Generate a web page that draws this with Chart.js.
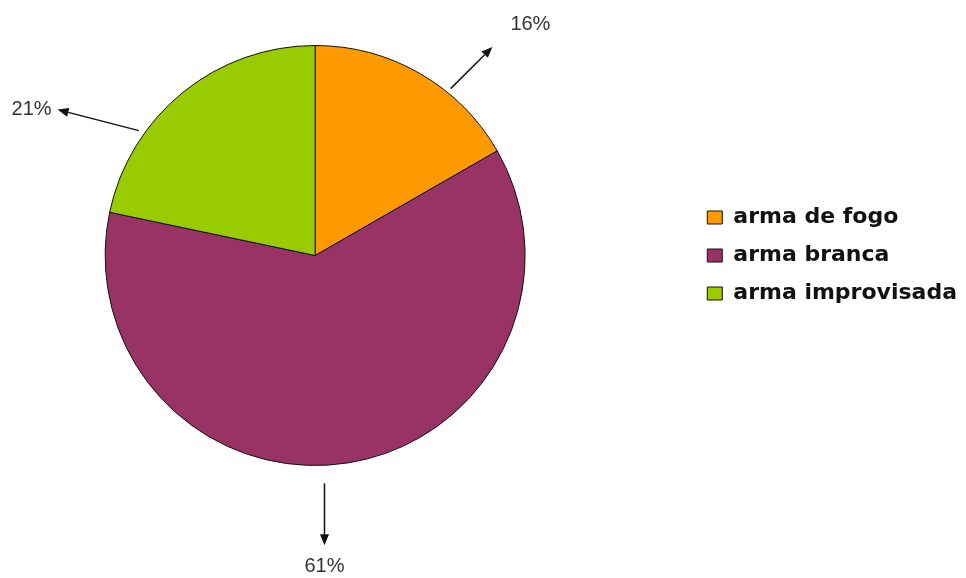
<!DOCTYPE html>
<html>
<head>
<meta charset="utf-8">
<script src="https://cdn.jsdelivr.net/npm/chart.js"></script>
<style>
  html, body { margin: 0; padding: 0; background: #fff; overflow: hidden; }
  /* canvas um pouco mais largo e deslocado para a esquerda, para a pizza ficar no lugar */
  #grafico-wrap { width: 1047px; height: 578px; margin-left: -61px; }
</style>
</head>
<body>
<div id="grafico-wrap"><canvas id="myChart-pizza"></canvas></div>
<script>
// dados do grafico
const categorias = ['arma de fogo', 'arma branca', 'arma improvisada'];
const valores = [16.7, 61.6, 21.7];
const rotulos = ['16%', '61%', '21%'];
const cores = ['#FF9900', '#993366', '#99CC00'];

// setas com os percentuais (frac = ponto na fatia, dir = graus a partir do topo)
const setas = [
  { frac: 0.65, gap: 5,  dir: 45,    len: 59, dx: 38,  dy: -22 },
  { frac: 0.53, gap: 18, dir: 180,   len: 62, dx: 0,   dy: 21 },
  { frac: 0.30, gap: 6,  dir: 284.5, len: 84, dx: -26, dy: 0 }
];

const pluginSetas = {
  id: 'setas',
  afterDraw(chart) {
    const ctx = chart.ctx;
    const meta = chart.getDatasetMeta(0);
    ctx.save();
    meta.data.forEach((arc, i) => {
      const s = setas[i];
      const p = arc.getProps(['x', 'y', 'startAngle', 'endAngle', 'outerRadius'], true);
      const a = p.startAngle + s.frac * (p.endAngle - p.startAngle);
      const r = p.outerRadius + s.gap;
      const sx = p.x + r * Math.cos(a);
      const sy = p.y + r * Math.sin(a);
      const d = s.dir * Math.PI / 180;
      const vx = Math.sin(d), vy = -Math.cos(d);
      const tx = sx + s.len * vx, ty = sy + s.len * vy;
      const head = 11, w = 4.5;
      // linha
      ctx.strokeStyle = '#111';
      ctx.lineWidth = 1.5;
      ctx.beginPath();
      ctx.moveTo(sx, sy);
      ctx.lineTo(tx - head * vx, ty - head * vy);
      ctx.stroke();
      // ponta da seta
      ctx.fillStyle = '#111';
      ctx.beginPath();
      ctx.moveTo(tx, ty);
      ctx.lineTo(tx - head * vx - w * vy, ty - head * vy + w * vx);
      ctx.lineTo(tx - head * vx + w * vy, ty - head * vy - w * vx);
      ctx.closePath();
      ctx.fill();
      // texto
      ctx.fillStyle = '#333';
      ctx.font = '20px "Liberation Sans", Arial, sans-serif';
      ctx.textAlign = 'center';
      ctx.textBaseline = 'middle';
      ctx.fillText(rotulos[i], tx + s.dx, ty + s.dy);
    });
    ctx.restore();
  }
};

const ctx = document.getElementById('myChart-pizza').getContext('2d');

const chart = new Chart(ctx, {
  type: 'pie',
  data: {
    labels: categorias,
    datasets: [{
      data: valores,
      backgroundColor: cores,
      borderColor: '#111',
      borderWidth: 1
    }]
  },
  options: {
    responsive: true,
    maintainAspectRatio: false,
    animation: false,
    layout: {
      padding: { left: 0, right: 19, top: 45, bottom: 112 }
    },
    plugins: {
      legend: {
        position: 'right',
        labels: {
          boxWidth: 15,
          boxHeight: 13,
          padding: 16,
          color: '#111',
          font: { family: 'DejaVu Sans', size: 22, weight: 'bold' }
        }
      },
      tooltip: { enabled: false }
    }
  },
  plugins: [pluginSetas]
});
</script>
</body>
</html>
